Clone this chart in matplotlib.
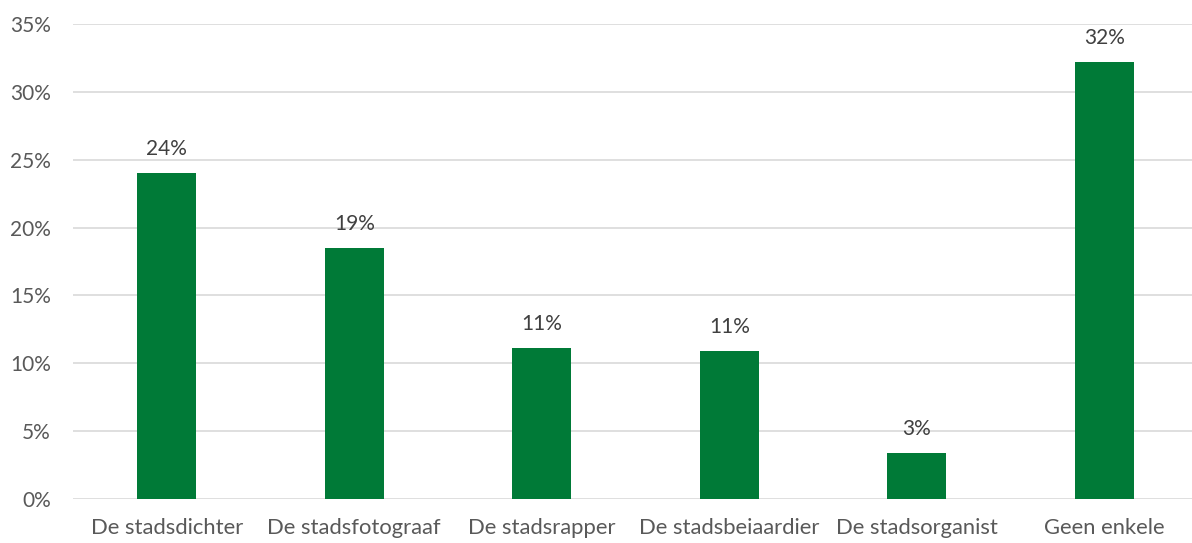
import matplotlib
matplotlib.use("Agg")
import matplotlib.pyplot as plt
from matplotlib.ticker import PercentFormatter

categories = ["De stadsdichter", "De stadsfotograaf", "De stadsrapper",
              "De stadsbeiaardier", "De stadsorganist", "Geen enkele"]
values = [24.0, 18.5, 11.1, 10.9, 3.4, 32.2]
labels = ["24%", "19%", "11%", "11%", "3%", "32%"]

plt.rcParams['font.family'] = ['Lato', 'DejaVu Sans']

fig = plt.figure(figsize=(11.92, 5.43), dpi=100)
ax = fig.add_axes([73/1192, 44/543, 1125/1192, 475/543])

x = range(len(categories))
bars = ax.bar(x, values, width=0.315, color="#007A37", zorder=3)
for b, t in zip(bars, labels):
    ax.annotate(t, (b.get_x() + b.get_width()/2, b.get_height()),
                xytext=(0, 10), textcoords="offset points",
                ha="center", va="bottom", fontsize=15, color="#404040")

ax.set_xlim(-0.5, len(categories) - 0.5)
ax.set_ylim(0, 35)
ax.set_yticks(range(0, 36, 5))
ax.yaxis.set_major_formatter(PercentFormatter(decimals=0))
ax.set_xticks(list(x))
ax.set_xticklabels(categories)
ax.tick_params(axis="both", length=0, labelcolor="#595959")
ax.tick_params(axis="y", pad=16, labelsize=15)
ax.tick_params(axis="x", pad=14, labelsize=15.8)
ax.grid(axis="y", color="#D9D9D9", linewidth=1.2, zorder=0)
for s in ax.spines.values():
    s.set_visible(False)

fig.savefig("out.png", dpi=100)
